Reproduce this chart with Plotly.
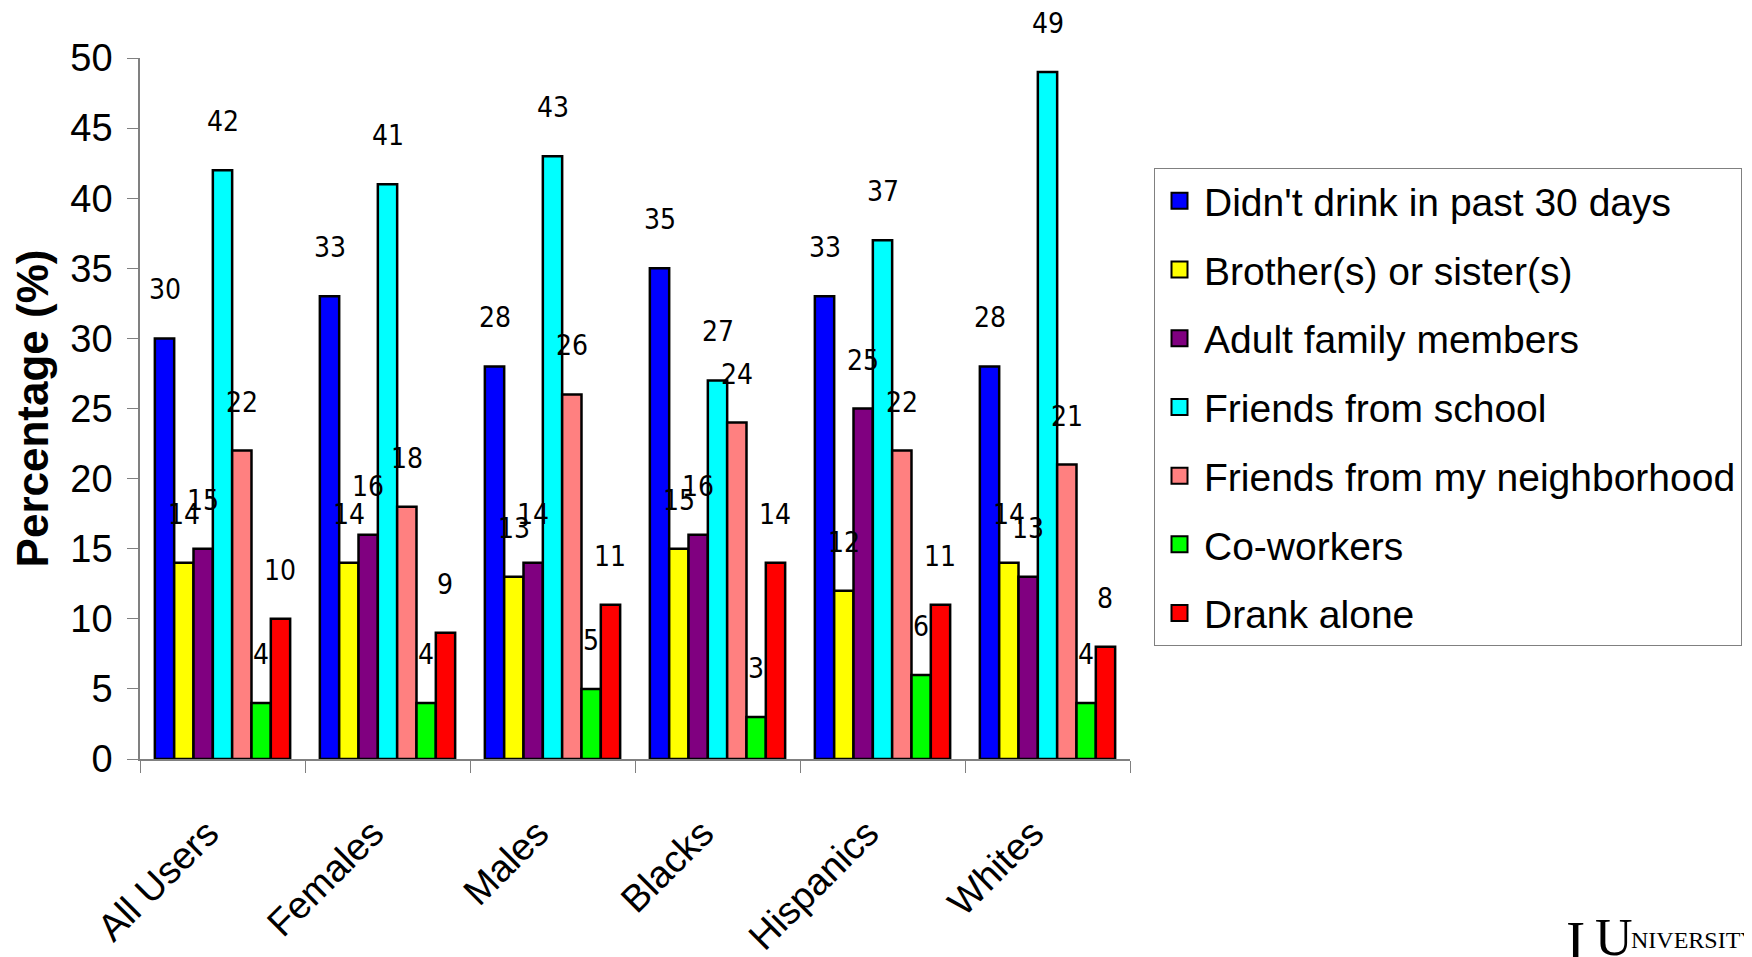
import plotly.graph_objects as go

# groups along the x axis
groups = ["All Users", "Females", "Males", "Blacks", "Hispanics", "Whites"]

# one list per source of alcohol (percent)
didnt_drink = [30, 33, 28, 35, 33, 28]
siblings = [14, 14, 13, 15, 12, 14]
adult_family = [15, 16, 14, 16, 25, 13]
school_friends = [42, 41, 43, 27, 37, 49]
neighborhood_friends = [22, 18, 26, 24, 22, 21]
coworkers = [4, 4, 5, 3, 6, 4]
drank_alone = [10, 9, 11, 14, 11, 8]

series_names = ["Didn't drink in past 30 days", "Brother(s) or sister(s)",
                "Adult family members", "Friends from school",
                "Friends from my neighborhood", "Co-workers", "Drank alone"]
series_values = [didnt_drink, siblings, adult_family, school_friends,
                 neighborhood_friends, coworkers, drank_alone]
colors = ["#0000FF", "#FFFF00", "#800080", "#00FFFF", "#FF8080", "#00FF00", "#FF0000"]

W, H = 1752, 957
ML, MR, MT, MB = 132, 630, 50, 206
BARGAP = 0.18
plot_w = W - ML - MR
plot_h = H - MT - MB

fig = go.Figure()
for name, vals, col in zip(series_names, series_values, colors):
    fig.add_trace(go.Bar(
        x=groups, y=vals, name=name, showlegend=False,
        marker=dict(color=col, line=dict(color="black", width=2.5)),
        hoverinfo="skip",
    ))

# legend entries with bigger square swatches
for name, col in zip(series_names, colors):
    fig.add_trace(go.Scatter(
        x=[None], y=[None], mode="markers", name=name, legendgroup=name,
        marker=dict(symbol="square", size=16, color=col, line=dict(color="black", width=2)),
    ))

# value labels floating above each bar
bar_px = plot_w / len(groups) * (1 - BARGAP) / len(series_values)
label_font = dict(family="DejaVu Sans Condensed, sans-serif", size=28, color="black")
annotations = []
for k, vals in enumerate(series_values):
    for g, v in zip(groups, vals):
        annotations.append(dict(
            x=g, y=v, xref="x", yref="y", text=str(v), showarrow=False,
            xanchor="center", yanchor="bottom", xshift=(k - 3) * bar_px,
            yshift=30, font=label_font,
        ))

# logo text at bottom right, clipped by the page edge
logo_font = dict(family="Liberation Serif, serif", color="black")
annotations.append(dict(
    x=(1556 - ML) / plot_w, y=(plot_h + MT - 899) / plot_h,
    xref="paper", yref="paper", showarrow=False, text="I",
    font=dict(size=58, **logo_font), xanchor="left", yanchor="top",
))
annotations.append(dict(
    x=(1585 - ML) / plot_w, y=(plot_h + MT - 899) / plot_h,
    xref="paper", yref="paper", showarrow=False, text="U",
    font=dict(size=52, **logo_font), xanchor="left", yanchor="top",
))
annotations.append(dict(
    x=(1621 - ML) / plot_w, y=(plot_h + MT - 917) / plot_h,
    xref="paper", yref="paper", showarrow=False, text="NIVERSITY",
    font=dict(size=24, **logo_font), xanchor="left", yanchor="top",
))

fig.update_layout(
    width=W, height=H,
    margin=dict(l=ML, r=MR, t=MT, b=MB),
    paper_bgcolor="white", plot_bgcolor="white",
    barmode="group", bargap=BARGAP, bargroupgap=0,
    font=dict(family="Liberation Sans, Arial, sans-serif", color="black"),
    showlegend=True,
    legend=dict(
        x=(1146 - ML) / plot_w, y=(plot_h + MT - 160) / plot_h,
        xanchor="left", yanchor="top",
        bordercolor="#808080", borderwidth=1,
        font=dict(size=39, family="Liberation Sans, Arial, sans-serif"),
        traceorder="grouped", tracegroupgap=15, itemwidth=39,
    ),
    annotations=annotations,
)
fig.update_xaxes(
    tickangle=-45, tickfont=dict(size=38),
    ticks="outside", tickson="boundaries", ticklen=12, tickcolor="#808080",
    showline=True, linecolor="#808080", linewidth=1.5,
    showgrid=False, automargin=False, ticklabelstandoff=35, ticklabelshift=-15,
)
fig.update_yaxes(
    range=[0, 50], dtick=5, tickfont=dict(size=38),
    ticks="outside", ticklen=11, tickcolor="#808080",
    showline=True, linecolor="#808080", linewidth=1.5,
    showgrid=False, zeroline=False, automargin=False, ticklabelstandoff=7,
    title=dict(text="<b>Percentage (%)</b>", font=dict(size=44), standoff=12),
)

fig.write_html("out.html")
